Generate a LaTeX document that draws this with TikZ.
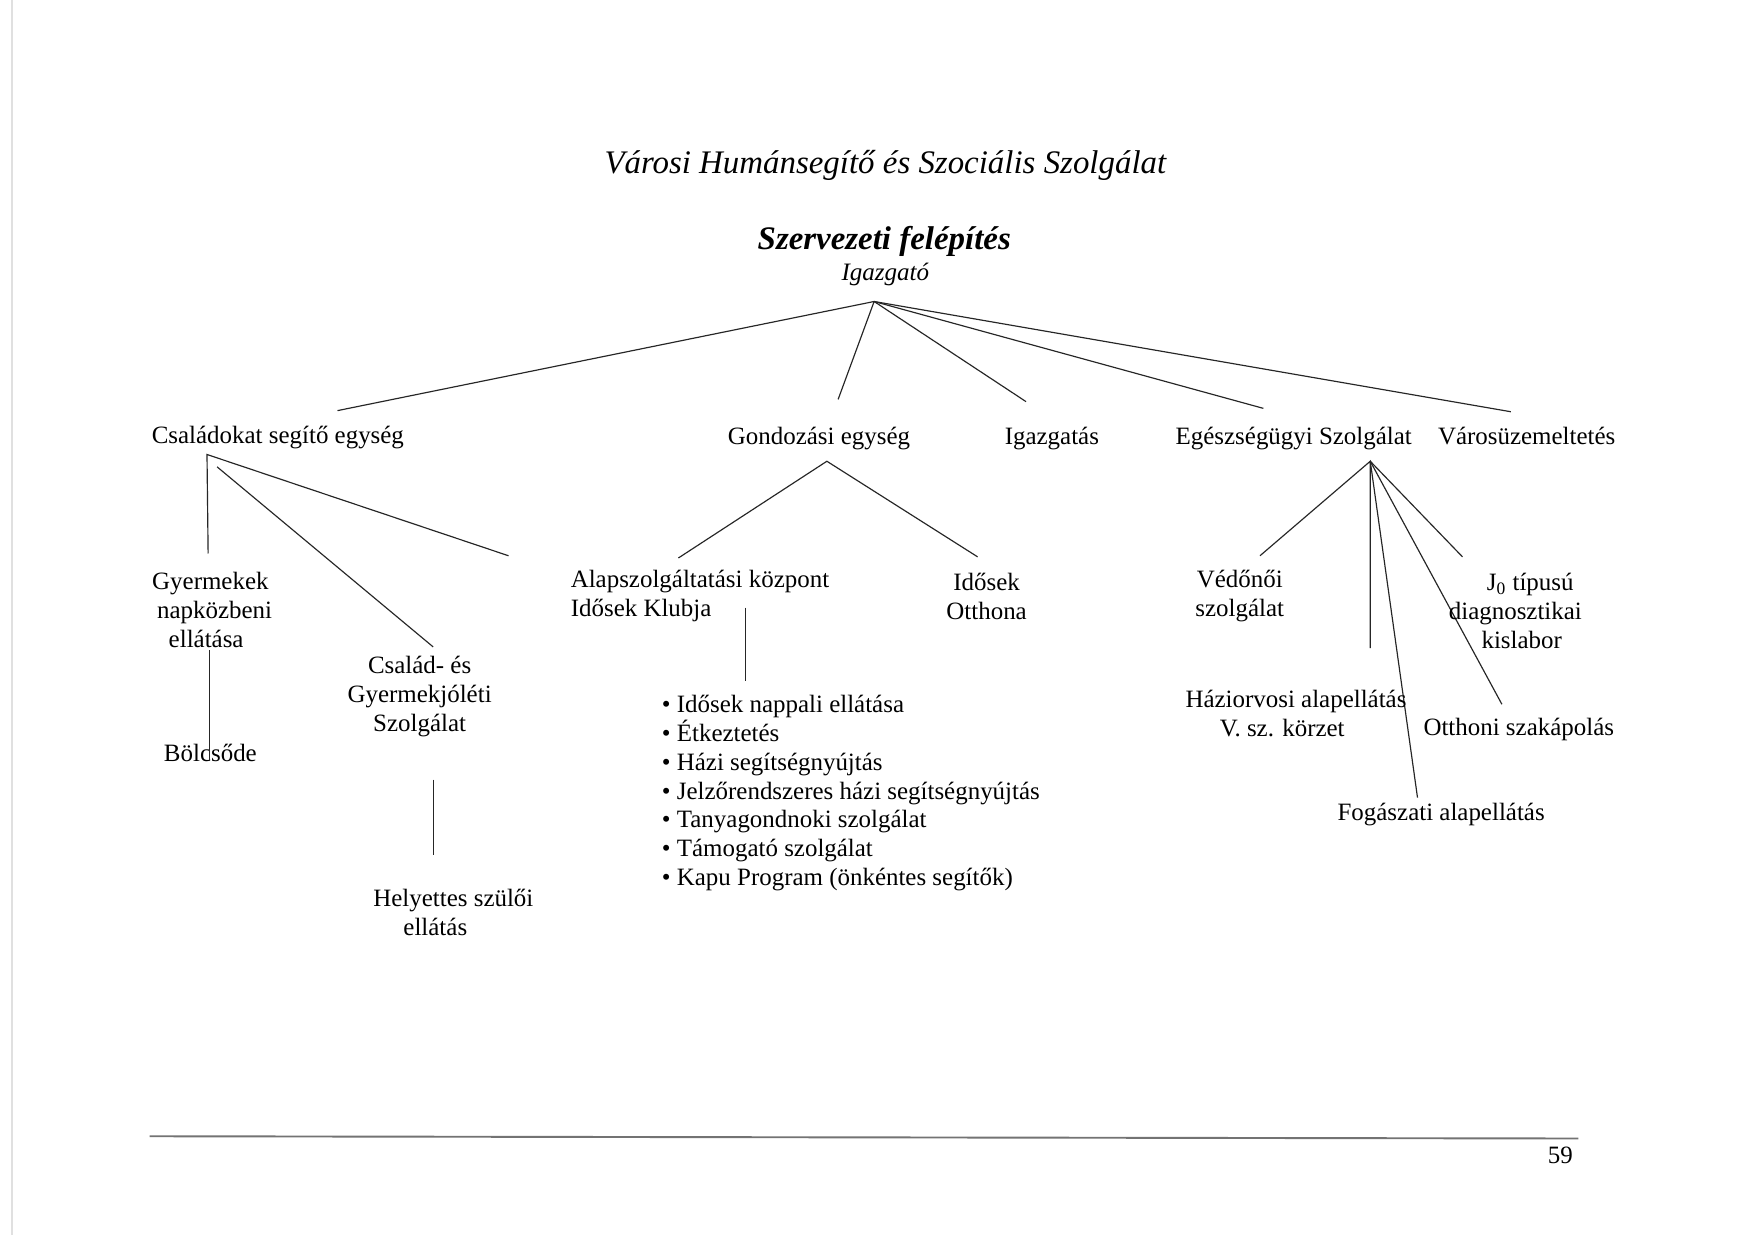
\documentclass[tikz,border=0pt]{standalone}
\usepackage{fontspec}
\setmainfont{Liberation Serif}
\begin{document}
\begin{tikzpicture}[x=0.53pt,y=-0.53pt,
  txt/.style={inner sep=0pt, align=center, font=\fontsize{11.75}{13.6}\selectfont},
  txtl/.style={inner sep=0pt, align=left, font=\fontsize{11.75}{13.6}\selectfont},
  conn/.style={line width=0.55pt, black!85}]
\useasboundingbox (0,0) rectangle (1560,1104);
\fill[white] (0,0) rectangle (1560,1104);
% faint page edge of the scan
\draw[black!12, line width=1pt] (10.5,0) coordinate (edgeA) -- (10.5,1098) coordinate (edgeB);

% titles
\node[inner sep=0pt, font=\fontsize{15.5}{18}\selectfont\itshape] (title) at (787,147) {Városi Humánsegítő és Szociális Szolgálat};
\node[inner sep=0pt, font=\fontsize{15.5}{18}\selectfont\bfseries\itshape] (szerv) at (786,215) {Szervezeti felépítés};
\node[inner sep=0pt, font=\fontsize{11.8}{14}\selectfont\itshape] (igazgato) at (787,244) {Igazgató};
\coordinate (ig) at (777,268);

% level 1
\node[txt, anchor=base] (csal) at (247,394) {Családokat segítő egység};
\node[txt, anchor=base] (gond) at (728,395) {Gondozási egység};
\node[txt, anchor=base] (igazg) at (935,395) {Igazgatás};
\node[txt, anchor=base] (eg) at (1150,395) {Egészségügyi Szolgálat};
\node[txt, anchor=base] (varos) at (1357,395) {Városüzemeltetés};

\coordinate (c1) at (300,365);
\coordinate (c2) at (745,355);
\coordinate (c3) at (912,357);
\coordinate (c4) at (1123,363);
\coordinate (c5) at (1343,366);
\foreach \e in {c1,c2,c3,c4,c5} \draw[conn] (ig) -- (\e);

% Családokat subtree
\coordinate (csA) at (184,404);
\coordinate (csV) at (185,492);
\coordinate (csR) at (452,494);
\coordinate (csB) at (193,415);
\coordinate (csE) at (385,575);
\draw[conn] (csV) -- (csA) -- (csR);
\draw[conn] (csB) -- (csE);

\node[txt] (gyerm) at (187,542) {Gyermekek\\\hspace*{4pt}napközbeni\\ellátása\hspace*{4pt}};
\node[txt] (bolcs) at (187,669) {Bölcsőde};
\coordinate (bA) at (186,578);
\coordinate (bB) at (186,676);
\draw[conn] (bA) -- (bB);

\node[txt] (csgy) at (373,619) {Család- és\\Gyermekjóléti\\Szolgálat};
\coordinate (hA) at (385,693);
\coordinate (hB) at (385,760);
\draw[conn] (hA) -- (hB);
\node[txt] (hely) at (403,811) {Helyettes szülői\\ellátás\hspace*{17pt}};

% Gondozási subtree
\coordinate (gA) at (735,410);
\coordinate (gL) at (603,496);
\coordinate (gR) at (869,495);
\draw[conn] (gL) -- (gA) -- (gR);
\node[txtl, anchor=west] (alap) at (507,530) {Alapszolgáltatási központ\\Idősek Klubja};
\node[txt] (otthona) at (877,530) {Idősek\\Otthona};
\coordinate (kA) at (663,540);
\coordinate (kB) at (663,605);
\draw[conn] (kA) -- (kB);
\node[txtl, anchor=west] (lista) at (588,705) {%
\textbullet\ Idősek nappali ellátása\\
\textbullet\ Étkeztetés\\
\textbullet\ Házi segítségnyújtás\\
\textbullet\ Jelzőrendszeres házi segítségnyújtás\\
\textbullet\ Tanyagondnoki szolgálat\\
\textbullet\ Támogató szolgálat\\
\textbullet\ Kapu Program (önkéntes segítők)};

% Egészségügyi subtree
\coordinate (eA) at (1218,410);
\coordinate (eV) at (1120,494);
\coordinate (eD) at (1218,576);
\coordinate (eF) at (1260,709);
\coordinate (eO) at (1335,626);
\coordinate (eJ) at (1300,495);
\draw[conn] (eV) -- (eA) -- (eD);
\draw[conn] (eA) -- (eF);
\draw[conn] (eA) -- (eO);
\draw[conn] (eA) -- (eJ);

\node[txt] (vedo) at (1102,530) {Védőnői\\szolgálat};
\node[txt] (j0) at (1347,543) {\hspace*{14pt}J\textsubscript{0} típusú\\diagnosztikai\\\hspace*{6pt}kislabor};
\node[txt] (hazi) at (1152,634) {Háziorvosi alapellátás\\V. sz. körzet\hspace*{13pt}};
\node[txt] (otth) at (1350,648) {Otthoni szakápolás};
\node[txt] (fog) at (1281,724) {Fogászati alapellátás};

% footer
\coordinate (fA) at (133,1010);
\coordinate (fB) at (1403,1012);
\draw[black!55, line width=0.9pt] (fA) -- (fB);
\node[txt] (page) at (1387,1027) {59};
\end{tikzpicture}
\end{document}
